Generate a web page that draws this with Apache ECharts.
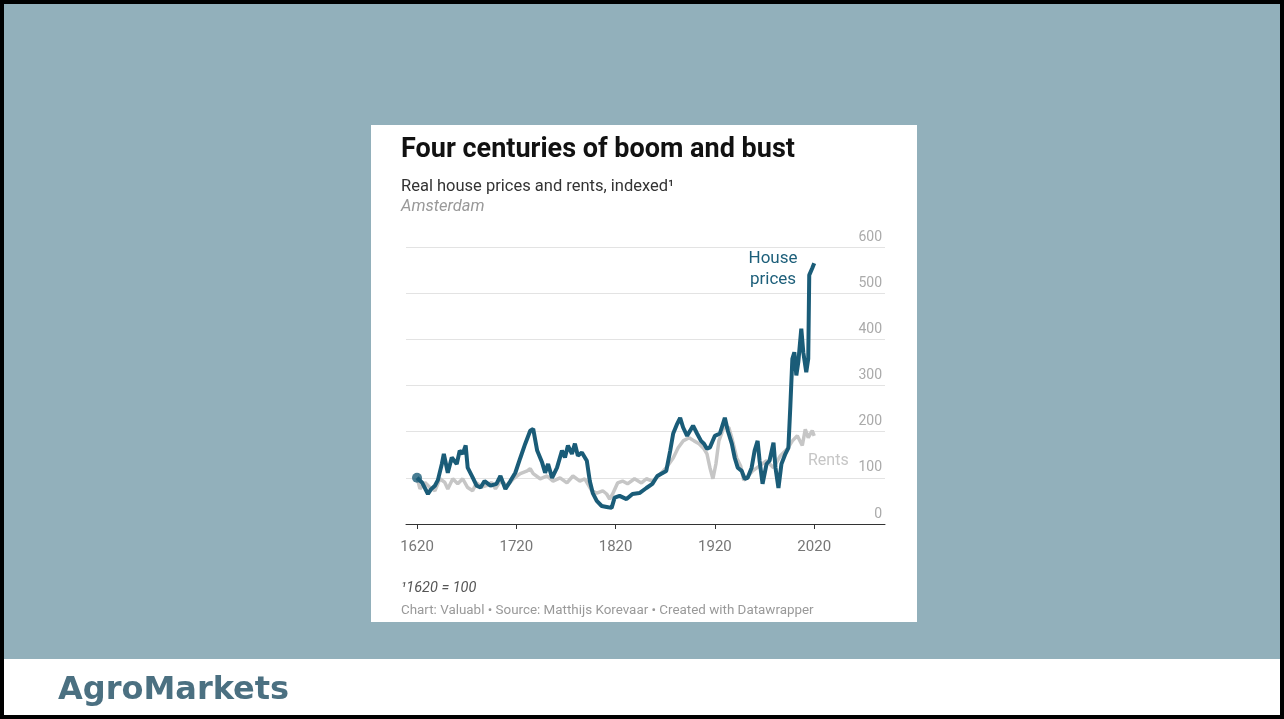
<!DOCTYPE html>
<html>
<head>
<meta charset="utf-8">
<title>Four centuries of boom and bust</title>
<script src="https://cdn.jsdelivr.net/npm/echarts@6/dist/echarts.min.js"></script>
<style>
	html, body { margin: 0; padding: 0; background: #000; }
	#main { width: 1284px; height: 719px; }
</style>
</head>
<body>
<div id="main"></div>
<script>
// house prices, Amsterdam (1620 = 100)
const houseYears = [1620, 1625, 1631, 1634, 1638, 1641, 1645, 1647, 1651, 1655, 1660, 1663, 1666, 1669, 1671, 1676, 1680, 1684, 1688, 1694,
	1700, 1704, 1709, 1714, 1719, 1724, 1729, 1734, 1737, 1741, 1746, 1749, 1752, 1756, 1761, 1766, 1769, 1772, 1776, 1779,
	1782, 1786, 1791, 1794, 1797, 1801, 1806, 1811, 1816, 1819, 1824, 1831, 1837, 1844, 1851, 1857, 1862, 1866, 1871, 1875,
	1878, 1882, 1885, 1888, 1892, 1895, 1898, 1902, 1906, 1909, 1912, 1915, 1920, 1925, 1930, 1933, 1937, 1940, 1943, 1947,
	1950, 1953, 1957, 1960, 1963, 1965, 1968, 1972, 1975, 1979, 1981, 1984, 1987, 1991, 1994, 1996, 1998, 2000, 2002, 2004,
	2007, 2009, 2012, 2014, 2015, 2018, 2020];
const houseValues = [100, 90, 65, 75, 83, 95, 130, 152, 111, 144, 130, 159, 152, 170, 122, 101, 83, 79, 93, 83,
	87, 104, 76, 93, 111, 143, 174, 202, 206, 159, 133, 111, 130, 100, 122, 159, 144, 170, 152, 174,
	148, 155, 137, 93, 67, 50, 39, 37, 35, 57, 61, 54, 65, 67, 78, 87, 104, 109, 115, 159,
	196, 217, 230, 209, 191, 202, 213, 196, 180, 174, 163, 166, 191, 196, 230, 202, 174, 143, 122, 115,
	98, 100, 122, 159, 180, 137, 87, 130, 137, 176, 122, 78, 130, 152, 165, 257, 358, 372, 322, 351,
	423, 372, 329, 358, 539, 554, 565];

// rents, Amsterdam (1620 = 100)
const rentYears = [1620, 1623, 1628, 1633, 1638, 1643, 1648, 1651, 1656, 1661, 1666, 1671, 1676, 1680, 1685, 1690, 1695, 1699,
	1704, 1711, 1717, 1724, 1731, 1734, 1737, 1744, 1751, 1757, 1764, 1771, 1777, 1784, 1789, 1796, 1801, 1807, 1811, 1814,
	1817, 1822, 1827, 1832, 1839, 1846, 1851, 1857, 1863, 1868, 1871, 1878, 1883, 1888, 1894, 1899, 1904, 1909, 1912, 1915,
	1918, 1921, 1924, 1929, 1934, 1937, 1942, 1946, 1949, 1952, 1958, 1965, 1972, 1979, 1986, 1993, 1998, 2003, 2008, 2011,
	2014, 2018, 2020];
const rentValues = [100, 76, 90, 79, 72, 98, 90, 76, 98, 87, 98, 79, 72, 89, 80, 83, 90, 76,
	93, 83, 98, 109, 115, 120, 109, 98, 104, 93, 100, 89, 104, 93, 98, 72, 67, 72, 65, 54,
	65, 89, 93, 87, 98, 89, 98, 93, 104, 115, 122, 143, 165, 180, 187, 180, 174, 163, 152, 122,
	98, 130, 180, 209, 209, 187, 143, 125, 95, 100, 115, 126, 137, 122, 148, 163, 180, 191, 170, 205,
	187, 202, 191];

const xTickLabels = [1620, 1720, 1820, 1920, 2020];

function pairs(xs, ys) {
	var out = [];
	for (var i = 0; i < xs.length; i++) {
		out.push([xs[i], ys[i]]);
	}
	return out;
}

var myChart = echarts.init(document.querySelector("#main"));

var font = "Roboto, 'Noto Sans', sans-serif";

var option = {
	backgroundColor: "#000",
	animation: false,
	textStyle: { fontFamily: font },
	graphic: [
		{ type: "rect", z: -10, shape: { x: 4, y: 4, width: 1276, height: 655 }, style: { fill: "#92b0bb" } },
		{ type: "rect", z: -10, shape: { x: 4, y: 659, width: 1276, height: 56 }, style: { fill: "#fff" } },
		{ type: "rect", z: -9, shape: { x: 371, y: 125, width: 546, height: 497 }, style: { fill: "#fff" } },
		{ type: "text", z: 10, style: { x: 773, y: 259, text: "House", fill: "#1d5f7a", font: "17px " + font, textAlign: "center", textVerticalAlign: "middle" } },
		{ type: "text", z: 10, style: { x: 773, y: 280, text: "prices", fill: "#1d5f7a", font: "17px " + font, textAlign: "center", textVerticalAlign: "middle" } },
		{ type: "text", z: 10, style: { x: 808, y: 461, text: "Rents", fill: "#c6c6c6", font: "16px " + font, textAlign: "left", textVerticalAlign: "middle" } }
	],
	title: [
		{ text: "Four centuries of boom and bust", left: 401, top: 137, padding: 0, textStyle: { fontSize: 27, fontWeight: "bold", color: "#111", fontFamily: font } },
		{ text: "Real house prices and rents, indexed\u00b9", left: 401, top: 178, padding: 0, textStyle: { fontSize: 16.5, fontWeight: "normal", color: "#333", fontFamily: font } },
		{ text: "Amsterdam", left: 401, top: 198, padding: 0, textStyle: { fontSize: 16.5, fontWeight: "normal", fontStyle: "italic", color: "#999", fontFamily: font } },
		{ text: "\u00b91620 = 100", left: 401, top: 581, padding: 0, textStyle: { fontSize: 14.5, fontWeight: "normal", fontStyle: "italic", color: "#555", fontFamily: font } },
		{ text: "Chart: Valuabl \u2022 Source: Matthijs Korevaar \u2022 Created with Datawrapper", left: 401, top: 604, padding: 0, textStyle: { fontSize: 13.4, fontWeight: "normal", color: "#999", fontFamily: font } },
		{ text: "AgroMarkets", left: 58, top: 675, padding: 0, textStyle: { fontSize: 32, fontWeight: "bold", color: "#4b7081", fontFamily: "'DejaVu Sans', sans-serif" } }
	],
	grid: { left: 406, right: 399, top: 247, bottom: 195 },
	xAxis: {
		type: "value",
		min: 1608.9,
		max: 2091.3,
		splitLine: { show: false },
		axisLine: { lineStyle: { color: "#333", width: 1 } },
		axisTick: { customValues: xTickLabels, length: 5, lineStyle: { color: "#333" } },
		axisLabel: {
			customValues: xTickLabels, color: "#777", fontSize: 15, margin: 16,
			formatter: function (v) { return String(v); }
		}
	},
	yAxis: {
		type: "value",
		position: "right",
		min: 0,
		max: 600,
		interval: 100,
		axisLine: { show: false },
		axisTick: { show: false },
		splitLine: { lineStyle: { color: "#e3e3e3", width: 1 } },
		axisLabel: { inside: true, margin: 3, color: "#aaa", fontSize: 14, verticalAlign: "bottom", padding: [0, 0, 3, 0] }
	},
	series: [
		{
			name: "Rents",
			type: "line",
			data: pairs(rentYears, rentValues),
			showSymbol: false,
			lineStyle: { color: "#c6c6c6", width: 3.5 },
			z: 2
		},
		{
			name: "House prices",
			type: "line",
			data: pairs(houseYears, houseValues),
			showSymbol: false,
			lineStyle: { color: "#1a5c78", width: 4 },
			z: 3
		},
		{
			name: "start",
			type: "scatter",
			data: [[houseYears[0], houseValues[0]]],
			symbolSize: 10,
			itemStyle: { color: "#1a5c78" },
			z: 4
		}
	]
};
myChart.setOption(option);
</script>
</body>
</html>
